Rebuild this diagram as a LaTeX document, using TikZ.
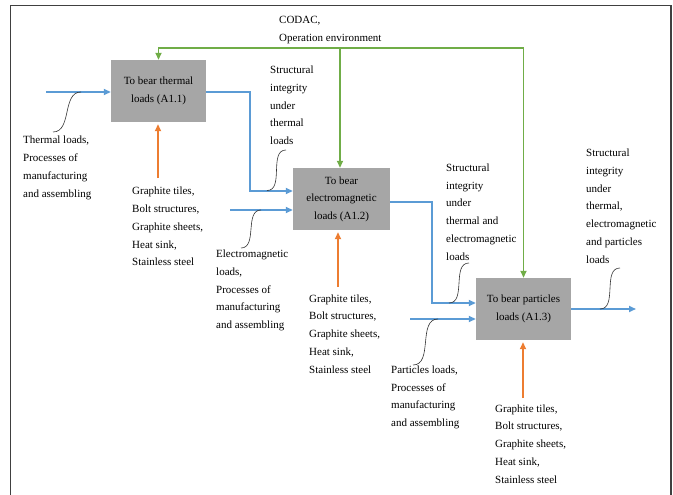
\documentclass[tikz,border=0pt]{standalone}
\usepackage{fontspec}
\setmainfont{Liberation Serif}
\usetikzlibrary{arrows.meta}
\definecolor{flowblue}{HTML}{5B9BD5}
\definecolor{ctrlgreen}{HTML}{70AD47}
\definecolor{mechorange}{HTML}{ED7D31}
\definecolor{boxgray}{HTML}{A6A6A6}
\definecolor{framegray}{HTML}{404040}

\begin{document}
\begin{tikzpicture}[
  x=1pt, y=-1pt,
  func/.style={fill=boxgray, minimum width=95pt, minimum height=62pt, inner sep=0pt,
               align=center, font=\fontsize{11}{17.6}\selectfont},
  note/.style={anchor=base west, align=left, inner sep=0pt, font=\fontsize{11}{17.7}\selectfont},
  flow/.style={-{Triangle[length=7pt,width=6pt]}, draw=flowblue, line width=1.6pt},
  ctrl/.style={-{Triangle[length=7pt,width=6pt]}, draw=ctrlgreen, line width=1.6pt},
  mech/.style={-{Triangle[length=7pt,width=6pt]}, draw=mechorange, line width=1.6pt, shorten >=2pt},
  link/.style={draw=black!80, line width=0.6pt}
]
\useasboundingbox (0,0) rectangle (673,495);

% frame
\draw[framegray, line width=1.3pt] (10.5,495) -- (10.5,5.5) -- (671,5.5) -- (671,495);

% functions
\node[func] (a1) at (158.5,91) {To bear thermal\\loads (A1.1)};
\node[func, minimum width=97pt] (a2) at (341.5,199) {To bear\\electromagnetic\\loads (A1.2)};
\node[func] (a3) at (523.5,309) {To bear particles\\loads (A1.3)};

% inputs and outputs
\coordinate (in1) at (46,92);
\coordinate (in2) at (230,210);
\coordinate (in3) at (410,319);
\coordinate (out3) at (636,309);

\draw[flow] (in1) -- (in1 -| a1.west);
\draw[flow] ([yshift=-1pt]a1.east) -- ++(44,0) |- ([yshift=8pt]a2.west);
\draw[flow] (in2) -- (in2 -| a2.west);
\draw[flow] ([yshift=-3pt]a2.east) -- ++(42,0) |- ([yshift=6pt]a3.west);
\draw[flow] (in3) -- (in3 -| a3.west);
\draw[flow] (a3.east) -- (out3);

% controls
\coordinate (bus) at (340,48);
\draw[ctrl] (bus) -| (a1.north);
\draw[ctrl] (bus) -| (a3.north);
\draw[ctrl] (bus) -- (bus |- a2.north);

% mechanisms
\coordinate (m1) at (158,178);
\coordinate (m2) at (338,287);
\coordinate (m3) at (523,398);
\draw[mech] (m1) -- (m1 |- a1.south);
\draw[mech] (m2) -- (m2 |- a2.south);
\draw[mech] (m3) -- (m3 |- a3.south);

% labels (placed at the baseline of their last line)
\node[note] (ctrllbl) at (279,41.5) {CODAC,\\Operation environment};
\node[note] (in1lbl) at (23,197) {Thermal loads,\\Processes of\\manufacturing\\and assembling};
\node[note] (out1lbl) at (270,144.5) {Structural\\integrity\\under\\thermal\\loads};
\node[note] (in2lbl) at (216,328.5) {Electromagnetic\\loads,\\Processes of\\manufacturing\\and assembling};
\node[note] (out2lbl) at (446,260) {Structural\\integrity\\under\\thermal and\\electromagnetic\\loads};
\node[note] (in3lbl) at (391,426.5) {Particles loads,\\Processes of\\manufacturing\\and assembling};
\node[note] (out3lbl) at (586,263) {Structural\\integrity\\under\\thermal,\\electromagnetic\\and particles\\loads};
\node[note] (m1lbl) at (132,265.7) {Graphite tiles,\\Bolt structures,\\Graphite sheets,\\Heat sink,\\Stainless steel};
\node[note] (m2lbl) at (309,373) {Graphite tiles,\\Bolt structures,\\Graphite sheets,\\Heat sink,\\Stainless steel};
\node[note] (m3lbl) at (495,483) {Graphite tiles,\\Bolt structures,\\Graphite sheets,\\Heat sink,\\Stainless steel};

% callout curves
\coordinate (k1a) at (53,132);  \coordinate (k1b) at (81,92);
\coordinate (k2a) at (267,190.5); \coordinate (k2b) at (286,150);
\coordinate (k3a) at (241,248); \coordinate (k3b) at (261,210);
\coordinate (k4a) at (449,303); \coordinate (k4b) at (469,263);
\coordinate (k5a) at (413,365); \coordinate (k5b) at (438,319);
\coordinate (k6a) at (600,309); \coordinate (k6b) at (620,268);
\draw[link] (k1a) to[out=0,in=180] (k1b);
\draw[link] (k2a) to[out=0,in=180] (k2b);
\draw[link] (k3a) to[out=0,in=180] (k3b);
\draw[link] (k4a) to[out=0,in=180] (k4b);
\draw[link] (k5a) to[out=0,in=180] (k5b);
\draw[link] (k6a) to[out=0,in=180] (k6b);
\end{tikzpicture}
\end{document}
